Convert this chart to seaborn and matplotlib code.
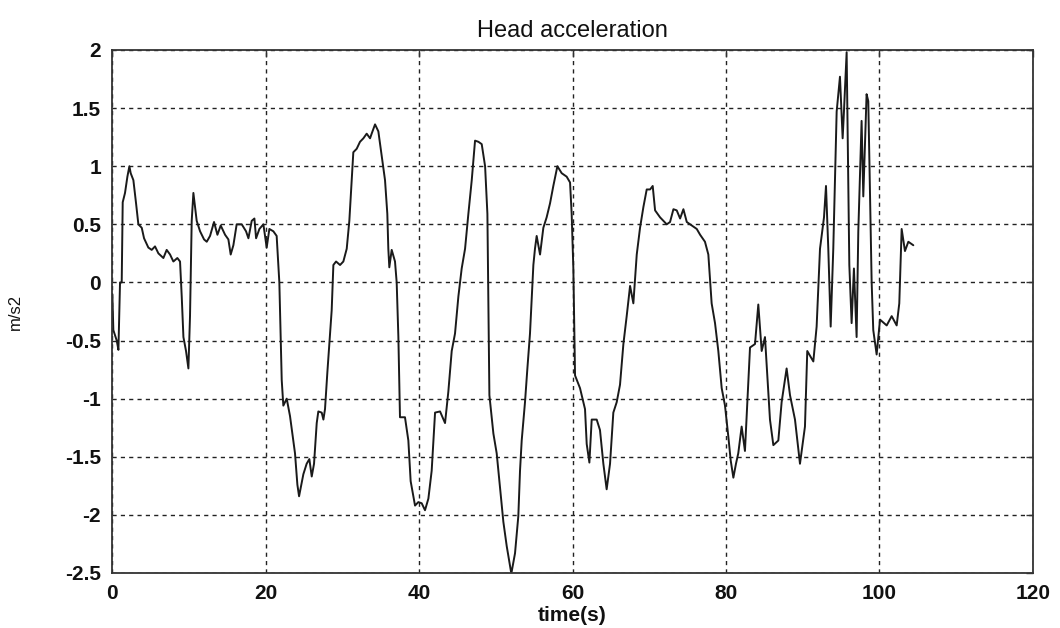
import matplotlib
matplotlib.use("Agg")
import matplotlib.pyplot as plt
import seaborn as sns
import pandas as pd

# traced signal: time (s) and head acceleration (m/s2)
time_s = [
    0.04, 0.17, 0.61, 0.83, 1.04, 1.26, 1.39, 1.69, 2.00, 2.26, 2.43, 2.78, 3.13, 3.43,
    3.87, 4.17, 4.73, 5.17, 5.60, 6.04, 6.69, 7.12, 7.56, 7.99, 8.51, 8.86, 9.08, 9.30,
    9.64, 9.95, 10.16, 10.38, 10.60, 10.82, 11.03, 11.47, 11.99, 12.34, 12.77, 13.29,
    13.73, 14.16, 14.73, 15.16, 15.46, 15.81, 16.24, 16.90, 17.46, 17.77, 18.20, 18.55,
    18.77, 19.20, 19.72, 20.15, 20.50, 21.02, 21.45, 21.80, 22.11, 22.32, 22.76, 23.19,
    23.84, 24.15, 24.37,
    24.93, 25.36, 25.71, 26.02, 26.32, 26.67, 26.88, 27.32, 27.54, 27.75, 28.06, 28.40,
    28.62, 28.84, 29.19, 29.71, 30.14, 30.58, 30.92, 31.23, 31.44, 31.88, 32.31, 32.75,
    33.18, 33.62, 33.83, 34.27, 34.70, 35.14, 35.57, 35.87, 36.00, 36.13, 36.44, 36.87,
    37.09, 37.31, 37.52, 38.17, 38.61, 38.91, 39.48, 39.91, 40.35, 40.78, 41.22, 41.65,
    42.09, 42.74, 43.39, 43.82, 44.26, 44.69, 45.13, 45.56, 46.00, 46.43, 46.87, 47.30,
    47.74, 48.17, 48.61, 48.91, 49.17, 49.69, 50.12, 50.56, 50.99, 51.43, 51.99,
    52.07, 52.51, 52.94, 53.16, 53.38, 53.81, 54.12, 54.46, 54.68, 54.90, 55.11, 55.33,
    55.77, 56.20, 56.63, 57.07, 57.50, 58.03, 58.59, 59.24, 59.68, 59.89, 60.11, 60.33,
    60.98, 61.63, 61.85, 62.20, 62.50, 63.15, 63.58, 64.02, 64.45, 64.89, 65.32, 65.76,
    66.19, 66.63, 67.06, 67.50, 67.93, 68.37, 68.80, 69.24, 69.67, 70.11, 70.45, 70.76,
    71.41, 72.28, 72.71, 73.15, 73.58, 74.02, 74.45, 74.89, 75.54, 76.19, 76.63,
    77.26, 77.70, 78.13, 78.57, 79.00, 79.44, 79.87, 80.31, 80.61, 80.96, 81.30, 81.60,
    82.04, 82.47, 82.91, 83.13, 83.78, 84.21, 84.65, 85.08, 85.73, 86.17, 86.82, 87.25,
    87.90, 88.34, 88.99, 89.64, 90.29, 90.59, 91.38, 91.81, 92.25, 92.77, 93.03, 93.33,
    93.64, 93.98, 94.42, 94.85, 95.20, 95.37, 95.72, 96.07, 96.37, 96.67, 97.02, 97.24,
    97.67, 97.89, 98.32, 98.54, 98.98, 99.19, 99.63, 100.07, 100.94, 101.59, 102.24,
    102.58, 102.89, 103.32, 103.76, 104.41,
]
accel = [
    -0.10, -0.41, -0.50, -0.58, 0.00, 0.00, 0.69, 0.77, 0.91, 1.00, 0.94, 0.88, 0.68, 0.50,
    0.47, 0.38, 0.30, 0.28, 0.31, 0.25, 0.21, 0.28, 0.24, 0.18, 0.21, 0.18, -0.12, -0.47,
    -0.59, -0.74, -0.29, 0.53, 0.77, 0.65, 0.53, 0.44, 0.37, 0.35, 0.40, 0.52,
    0.41, 0.49, 0.41, 0.37, 0.24, 0.32, 0.50, 0.50, 0.44, 0.38, 0.53, 0.55,
    0.38, 0.46, 0.50, 0.30, 0.46, 0.44, 0.40, 0.00, -0.84, -1.06, -1.00, -1.15,
    -1.47, -1.74, -1.84,
    -1.65, -1.56, -1.52, -1.67, -1.56, -1.21, -1.11, -1.12, -1.18, -1.09, -0.77, -0.44,
    -0.24, 0.15, 0.18, 0.15, 0.18, 0.29, 0.53, 0.88, 1.12, 1.15, 1.21, 1.24,
    1.28, 1.24, 1.28, 1.36, 1.30, 1.09, 0.88, 0.59, 0.29, 0.13, 0.28, 0.18,
    0.00, -0.47, -1.16, -1.16, -1.36, -1.71, -1.92, -1.89, -1.90, -1.96, -1.86, -1.62,
    -1.12, -1.11, -1.21, -0.94, -0.59, -0.44, -0.12, 0.12, 0.29, 0.59, 0.88, 1.22,
    1.21, 1.19, 1.00, 0.59, -0.97, -1.30, -1.47, -1.77, -2.06, -2.27, -2.49,
    -2.49, -2.33, -2.01, -1.62, -1.36, -1.03, -0.74, -0.44, -0.15, 0.15, 0.29, 0.40,
    0.24, 0.47, 0.56, 0.68, 0.83, 1.00, 0.94, 0.91, 0.86, 0.59, 0.12, -0.80,
    -0.91, -1.09, -1.39, -1.55, -1.18, -1.18, -1.27, -1.56, -1.78, -1.56, -1.12, -1.03,
    -0.88, -0.53, -0.29, -0.03, -0.18, 0.24, 0.47, 0.65, 0.80, 0.80, 0.83, 0.62,
    0.56, 0.50, 0.52, 0.63, 0.62, 0.55, 0.63, 0.52, 0.49, 0.46, 0.41,
    0.35, 0.24, -0.18, -0.35, -0.59, -0.91, -1.06, -1.33, -1.53, -1.68, -1.56, -1.47,
    -1.24, -1.45, -0.86, -0.56, -0.53, -0.19, -0.59, -0.47, -1.18, -1.40, -1.36, -1.03,
    -0.74, -0.97, -1.18, -1.56, -1.24, -0.59, -0.68, -0.38, 0.29, 0.56, 0.83, 0.29,
    -0.38, 0.29, 1.47, 1.77, 1.24, 1.47, 1.98, 0.15, -0.35, 0.12, -0.47, 0.44,
    1.39, 0.74, 1.62, 1.56, 0.00, -0.41, -0.62, -0.32, -0.37, -0.29, -0.37,
    -0.18, 0.46, 0.27, 0.35, 0.32,
]

x_ticks = [0, 20, 40, 60, 80, 100, 120]
y_ticks = [-2.5, -2, -1.5, -1, -0.5, 0, 0.5, 1, 1.5, 2]
y_tick_labels = ["-2.5", "-2", "-1.5", "-1", "-0.5", "0", "0.5", "1", "1.5", "2"]

df = pd.DataFrame({"time": time_s, "accel": accel})

sns.set_theme(style="white")
plt.rcParams["font.family"] = ["Liberation Sans", "DejaVu Sans"]
plt.rcParams["axes.unicode_minus"] = False

fig = plt.figure(figsize=(10.6, 6.28), dpi=100)
ax = fig.add_axes([0.1057, 0.0876, 0.8688, 0.8328])

sns.lineplot(data=df, x="time", y="accel", ax=ax, color="#1a1a1a",
             linewidth=1.4, estimator=None, sort=False)

ax.set_xlim(0, 120)
ax.set_ylim(-2.5, 2)
ax.set_xticks(x_ticks)
ax.set_xticklabels([str(v) for v in x_ticks])
ax.set_yticks(y_ticks)
ax.set_yticklabels(y_tick_labels)

ax.grid(True, color="#222222", linestyle=(0, (3, 3)), linewidth=1.0)
ax.set_axisbelow(True)
for s in ax.spines.values():
    s.set_color("#333333")
    s.set_linewidth(1.3)
    s.set_visible(True)

ax.tick_params(axis="both", which="major", direction="in", length=5,
               width=1.0, color="#333333", top=True, right=True,
               labelsize=15, pad=8)
for lab in ax.get_xticklabels() + ax.get_yticklabels():
    lab.set_fontweight("bold")
    lab.set_color("#111111")

ax.set_title("Head acceleration", fontsize=17, color="#111111", pad=9)
ax.set_xlabel("time(s)", fontsize=15, fontweight="bold", color="#111111", labelpad=2)
ax.set_ylabel("m/s2", fontsize=12, color="#111111", labelpad=30)

fig.savefig("out.png", dpi=100, facecolor="white")
